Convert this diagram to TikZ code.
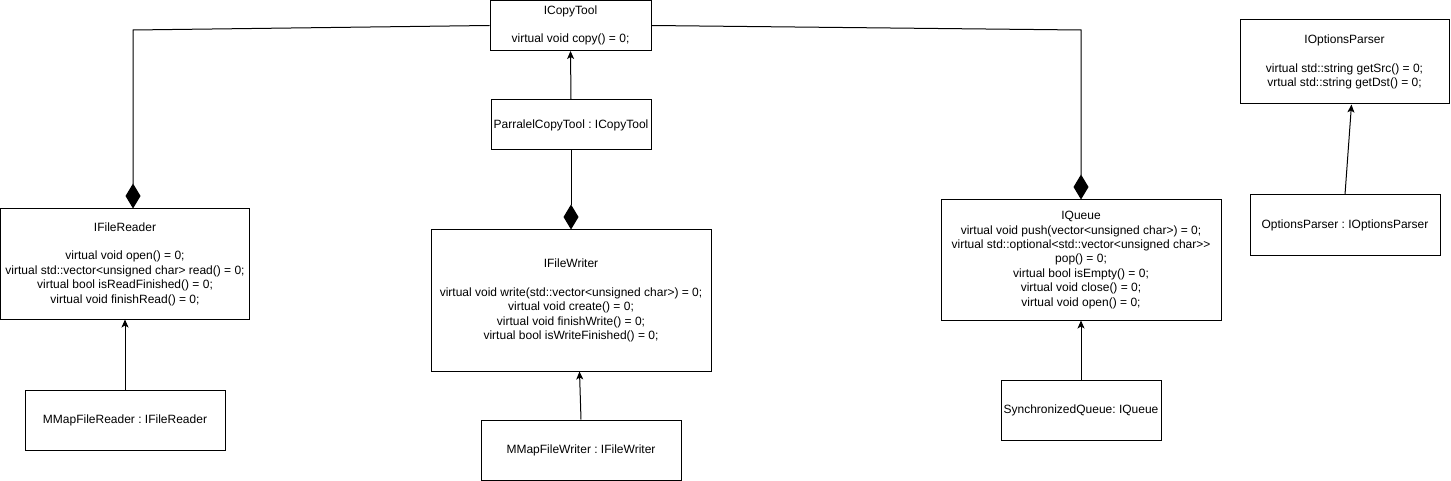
\documentclass[tikz,border=0pt]{standalone}
\usepackage{fontspec}
\setmainfont{Liberation Sans}
\usetikzlibrary{arrows.meta}
\begin{document}
\frenchspacing
\begin{tikzpicture}[x=1pt,y=-1pt, line width=1pt,
 box/.style={draw, rectangle, align=center, inner sep=0pt, font=\fontsize{12}{14.4}\selectfont\frenchspacing},
 gen/.style={-{Stealth[length=8pt,width=7pt,inset=2pt]}},
 comp/.style={-{Diamond[length=25pt,width=15pt]}}]
\useasboundingbox (0,0) rectangle (1451,481);
\node[box, minimum width=161pt, minimum height=50pt] (ict) at (570.5,25.5) {ICopyTool\\[14.4pt]virtual void copy() = 0;};
\node[box, minimum width=160pt, minimum height=50pt] (pct) at (571,125) {ParralelCopyTool : ICopyTool};
\node[box, minimum width=249pt, minimum height=110pt] (ifr) at (125,264) {IFileReader\\[14.4pt]virtual void open() = 0;\\virtual std::vector<unsigned char> read() = 0;\\virtual bool isReadFinished() = 0;\\virtual void finishRead() = 0;};
\node[box, minimum width=200pt, minimum height=60pt] (mfr) at (125,420) {MMapFileReader : IFileReader};
\node[box, minimum width=280pt, minimum height=141pt] (ifw) at (571,300.5) {IFileWriter\\[14.4pt]virtual void write(std::vector<unsigned char>) = 0;\\virtual void create() = 0;\\virtual void finishWrite() = 0;\\virtual bool isWriteFinished() = 0;};
\node[box, minimum width=200pt, minimum height=60pt] (mfw) at (581,450) {MMapFileWriter : IFileWriter};
\node[box, minimum width=280pt, minimum height=120pt] (iq) at (1081,260) {IQueue\\virtual void push(vector<unsigned char>) = 0;\\virtual std::optional<std::vector<unsigned char>\kern0pt>\\pop() = 0;\\virtual bool isEmpty() = 0;\\virtual void close() = 0;\\virtual void open() = 0;};
\node[box, minimum width=160pt, minimum height=60pt] (sq) at (1081,410) {SynchronizedQueue: IQueue};
\node[box, minimum width=209pt, minimum height=84pt] (iop) at (1344.5,62) {IOptionsParser\\[14.4pt]virtual std::string getSrc() = 0;\\vrtual std::string getDst() = 0;};
\node[box, minimum width=190pt, minimum height=60pt] (op) at (1345,225) {OptionsParser : IOptionsParser};
\coordinate (c1) at (133,30);
\coordinate (c2) at (1081,30);
\draw[comp] (ict.west) -- (c1) -- (c1 |- ifr.north);
\draw[comp] (ict.east) -- (c2) -- (iq.north);
\draw[comp] (pct.south) -- (ifw.north);
\draw[gen] (pct.north) -- (ict.south);
\draw[gen] (mfr.north) -- (ifr.south);
\draw[gen] (mfw.north) -- ([xshift=8.5pt]ifw.south);
\draw[gen] (sq.north) -- (iq.south);
\draw[gen] (op.north) -- ([xshift=7pt]iop.south);
\end{tikzpicture}
\end{document}
